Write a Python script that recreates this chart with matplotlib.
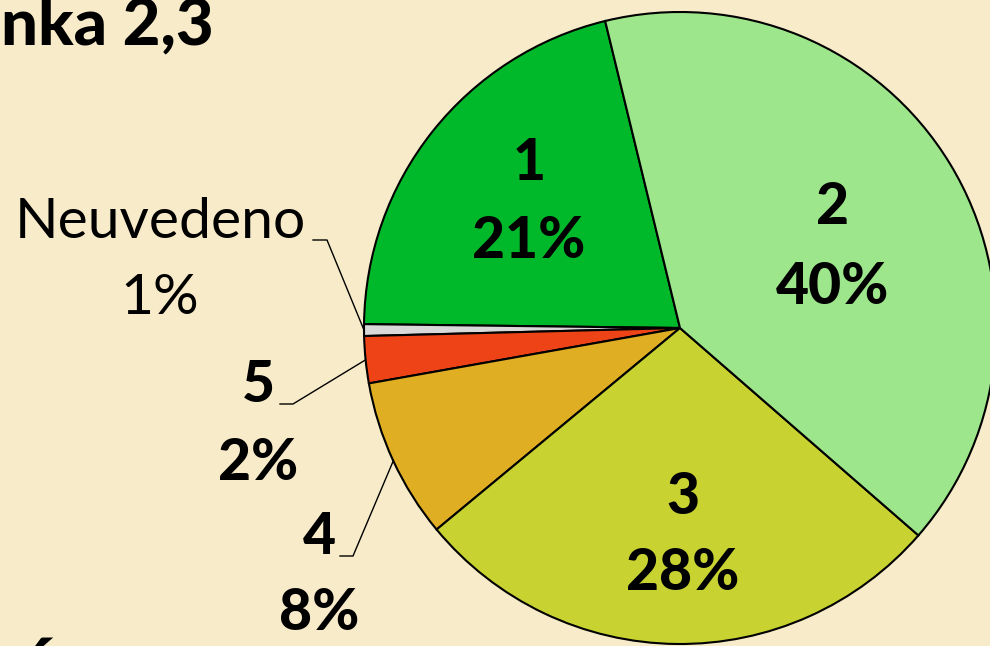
import numpy as np
import matplotlib.pyplot as plt

# ---- data ----
categories = ["1", "Neuvedeno", "5", "4", "3", "2"]
shares = [21.0, 0.6, 2.4, 8.2, 27.6, 40.2]
colors = ["#00B92A", "#D9D9D9", "#EE4317", "#E0AE22", "#C8D230", "#9DE68B"]

# label layout in pixel coords (x, y from top) -- name line / percent line
inside_pos = {"1": (529, 163, 242), "2": (833, 208, 287), "3": (683, 497, 574)}
outside_pos = {"Neuvedeno": (160, 222, 299), "5": (258, 386, 463), "4": (319, 537, 613)}
leader_elbow = {"Neuvedeno": (313, 327, 240), "5": (280, 293, 404), "4": (340, 353, 556)}

W, H = 990, 646
CX, CY, R = 680, 328, 316
START = 103.7

plt.rcParams["font.family"] = ["Lato", "DejaVu Sans"]

fig = plt.figure(figsize=(W / 100, H / 100), dpi=100)
fig.patch.set_facecolor("#F8EBC9")
ax = fig.add_axes([0, 0, 1, 1])

wedges, _ = ax.pie(shares, colors=colors, startangle=START, counterclock=True,
                   center=(CX, H - CY), radius=R,
                   wedgeprops=dict(edgecolor="black", linewidth=1.5))
ax.set_xlim(0, W)
ax.set_ylim(0, H)
ax.set_aspect("equal")
ax.axis("off")

for cat, val, w in zip(categories, shares, wedges):
    pct = f"{round(val)}%"
    if cat in inside_pos:
        x, y1, y2 = inside_pos[cat]
        ax.text(x, H - y1, cat, ha="center", va="center", fontsize=41, fontweight="black")
        ax.text(x, H - y2, pct, ha="center", va="center", fontsize=41, fontweight="black")
    else:
        x, y1, y2 = outside_pos[cat]
        weight = "normal" if cat == "Neuvedeno" else "black"
        ax.text(x, H - y1, cat, ha="center", va="center", fontsize=41, fontweight=weight)
        ax.text(x, H - y2, pct, ha="center", va="center", fontsize=41, fontweight=weight)
        # leader line to wedge edge at its mid angle
        mid = np.deg2rad((w.theta1 + w.theta2) / 2)
        ex, ey = CX + R * np.cos(mid), (H - CY) + R * np.sin(mid)
        x0, x1, ly = leader_elbow[cat]
        ax.plot([x0, x1, ex], [H - ly, H - ly, ey], color="black", lw=1.0)

# cut-off slide title / stray text
ax.text(214, H - 26, "nka 2,3", ha="right", va="center", fontsize=47, fontweight="black")
ax.text(40, -30, "Ú", ha="center", va="center", fontsize=44, fontweight="black")

fig.savefig("out.png", dpi=100, facecolor=fig.get_facecolor())
